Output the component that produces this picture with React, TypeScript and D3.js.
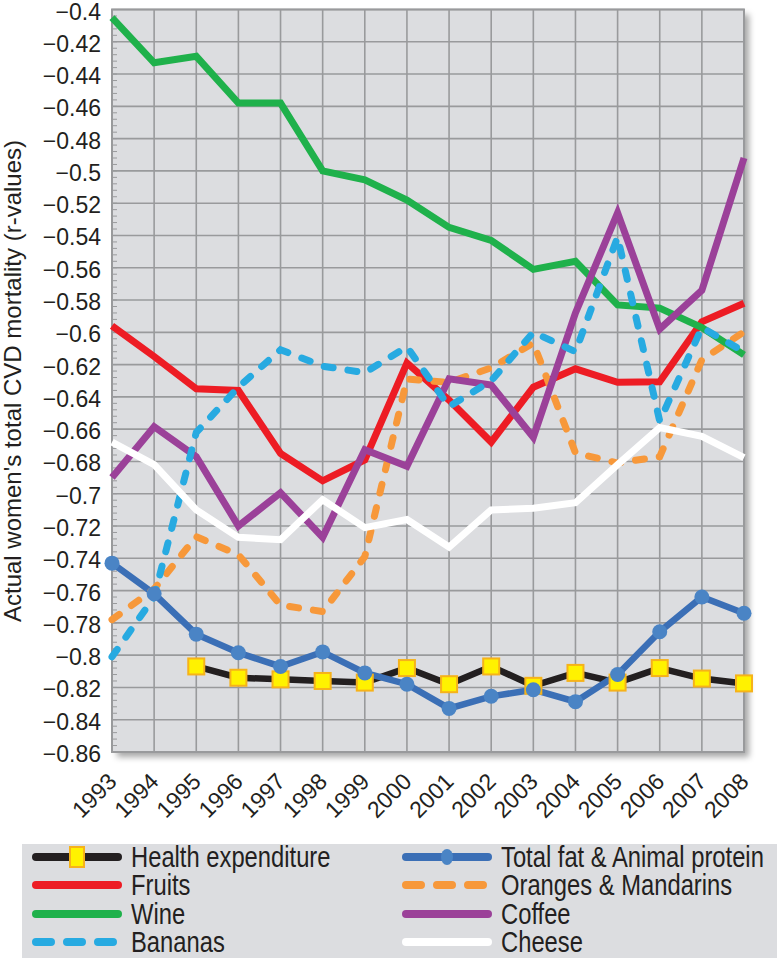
import React from "react";
import * as d3 from "d3";

const years = [1993, 1994, 1995, 1996, 1997, 1998, 1999, 2000, 2001, 2002, 2003, 2004, 2005, 2006, 2007, 2008];
const yTicks = [-0.4, -0.42, -0.44, -0.46, -0.48, -0.5, -0.52, -0.54, -0.56, -0.58, -0.6, -0.62, -0.64, -0.66, -0.68, -0.7, -0.72, -0.74, -0.76, -0.78, -0.8, -0.82, -0.84, -0.86];

const health = [null, null, -0.807, -0.814, -0.815, -0.816, -0.817, -0.808, -0.818, -0.807, -0.819, -0.811, -0.817, -0.808, -0.8145, -0.8175];
const totalFat = [-0.743, -0.762, -0.787, -0.7985, -0.807, -0.798, -0.811, -0.818, -0.833, -0.8255, -0.8214, -0.8288, -0.812, -0.7855, -0.764, -0.774];
const fruits = [-0.596, -0.615, -0.635, -0.636, -0.675, -0.692, -0.679, -0.619, -0.642, -0.668, -0.634, -0.6226, -0.631, -0.6306, -0.5935, -0.582];
const oranges = [-0.778, -0.759, -0.7266, -0.7378, -0.769, -0.773, -0.739, -0.629, -0.631, -0.622, -0.6066, -0.6747, -0.681, -0.677, -0.617, -0.5997];
const wine = [-0.405, -0.433, -0.429, -0.458, -0.458, -0.5, -0.5056, -0.518, -0.535, -0.543, -0.561, -0.556, -0.583, -0.585, -0.597, -0.614];
const coffee = [-0.69, -0.6585, -0.677, -0.72, -0.6994, -0.727, -0.6727, -0.683, -0.6288, -0.6326, -0.665, -0.588, -0.526, -0.598, -0.574, -0.492];
const bananas = [-0.801, -0.764, -0.662, -0.634, -0.6108, -0.621, -0.625, -0.609, -0.646, -0.63, -0.6, -0.612, -0.541, -0.655, -0.597, -0.612];
const cheese = [-0.668, -0.682, -0.71, -0.727, -0.7285, -0.7037, -0.721, -0.716, -0.733, -0.71, -0.709, -0.7056, -0.682, -0.659, -0.6645, -0.6777];

const seriesNames = ["Health expenditure", "Total fat & Animal protein", "Fruits", "Oranges & Mandarins", "Wine", "Coffee", "Bananas", "Cheese"];
const seriesData = [health, totalFat, fruits, oranges, wine, coffee, bananas, cheese];
const seriesColors = ["#231f20", "#3b6fb6", "#ed1c24", "#f7983a", "#1fb14b", "#9b4199", "#27aae1", "#ffffff"];
const seriesDashed = [false, false, false, true, false, false, true, false];

const W = 777;
const H = 958;
const L = 112, R = 744, T = 9.5, B = 752;

const FONT = "'Liberation Sans', Arial, Helvetica, sans-serif";

function fmt(v: number) {
  const s = String(Math.abs(+v.toFixed(2)));
  return "\u2212" + s;
}

export default function App() {
  const x = d3.scaleLinear().domain([1993, 2008]).range([L, R]);
  const y = d3.scaleLinear().domain([-0.86, -0.4]).range([B, T]);
  const line = d3
    .line<number | null>()
    .defined((d) => d != null)
    .x((_, i) => x(years[i]))
    .y((d) => y(d as number));

  const minor = d3.range(0, 116).map((i) => -0.4 - i * 0.004).filter((v) => v >= -0.8601);

  const legendRows = [857, 885, 914, 942];
  const colX = [36, 406];

  const legendOrder = [0, 2, 4, 6, 1, 3, 5, 7];

  return (
    <svg width={W} height={H} style={{ position: "absolute", left: 0, top: 0, background: "#fff" }}>
      <defs>
        <filter id="sh" x="-5%" y="-5%" width="115%" height="115%">
          <feDropShadow dx="5" dy="5" stdDeviation="3" floodColor="#000" floodOpacity="0.35" />
        </filter>
      </defs>
      <rect x={L} y={T} width={R - L} height={B - T} fill="#dcdde0" filter="url(#sh)" />
      {years.map((yr) => (
        <line key={"vg" + yr} x1={x(yr)} x2={x(yr)} y1={T} y2={B} stroke="#999a9c" strokeWidth={1.6} />
      ))}
      {yTicks.map((t) => (
        <line key={"hg" + t} x1={L} x2={R} y1={y(t)} y2={y(t)} stroke="#999a9c" strokeWidth={1.6} />
      ))}
      {minor.map((m, i) => (
        <line key={"mt" + i} x1={L} x2={L + 5} y1={y(m)} y2={y(m)} stroke="#999a9c" strokeWidth={1} />
      ))}
      <rect x={L} y={T} width={R - L} height={B - T} fill="none" stroke="#999a9c" strokeWidth={2} />

      {yTicks.map((t) => (
        <text key={"yl" + t} x={101} y={y(t) + 2} textAnchor="end" dominantBaseline="central" fontFamily={FONT} fontSize={23} fill="#231f20">
          {fmt(t)}
        </text>
      ))}
      {years.map((yr) => (
        <text key={"xl" + yr} transform={`translate(${x(yr) + 6},${783}) rotate(-45)`} textAnchor="end" fontFamily={FONT} fontSize={23} fill="#231f20">
          {yr}
        </text>
      ))}
      <text transform={`translate(21,${381}) rotate(-90)`} textAnchor="middle" fontFamily={FONT} fontSize={24} fill="#231f20">
        Actual women's total CVD mortality (r-values)
      </text>

      {seriesData.map((s, i) => (
        <path
          key={"s" + i}
          d={line(s as (number | null)[]) || ""}
          fill="none"
          stroke={seriesColors[i]}
          strokeWidth={i < 2 ? 6.5 : 7}
          strokeLinejoin="miter"
          strokeLinecap={seriesDashed[i] ? "round" : "butt"}
          strokeDasharray={seriesDashed[i] ? "9 15" : undefined}
        />
      ))}
      {health.map((v, i) =>
        v == null ? null : (
          <rect key={"hm" + i} x={x(years[i]) - 8} y={y(v) - 8} width={16} height={16} fill="#fff200" stroke="#f6b21a" strokeWidth={2} />
        )
      )}
      {totalFat.map((v, i) => (
        <circle key={"tm" + i} cx={x(years[i])} cy={y(v)} r={7.5} fill="#4a84c5" />
      ))}

      <rect x={22} y={844} width={W - 22} height={H - 844} fill="#dcdde0" />
      {legendOrder.map((si, k) => {
        const col = k < 4 ? 0 : 1;
        const row = k % 4;
        const cy = legendRows[row];
        const x0 = colX[col];
        const x1 = x0 + 82;
        return (
          <g key={"lg" + si}>
            <line
              x1={x0}
              x2={x1}
              y1={cy}
              y2={cy}
              stroke={seriesColors[si]}
              strokeWidth={8}
              strokeLinecap="round"
              strokeDasharray={seriesDashed[si] ? "15 16" : undefined}
            />
            {si === 0 && <rect x={(x0 + x1) / 2 - 7} y={cy - 10} width={14} height={20} fill="#fff200" stroke="#f6b21a" strokeWidth={2} />}
            {si === 1 && <ellipse cx={(x0 + x1) / 2} cy={cy} rx={6} ry={8} fill="#4a84c5" />}
            <text transform={`translate(${x1 + 13},${cy + 10}) scale(0.82,1)`} fontFamily={FONT} fontSize={29} fill="#231f20">
              {seriesNames[si]}
            </text>
          </g>
        );
      })}
    </svg>
  );
}
